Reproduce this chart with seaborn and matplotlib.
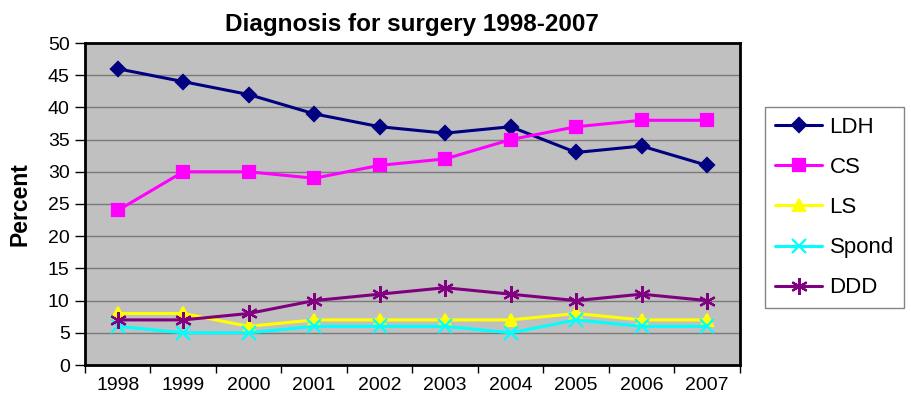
import matplotlib
matplotlib.use("Agg")
import matplotlib.pyplot as plt
import numpy as np
import pandas as pd
import seaborn as sns

# data
years = [1998, 1999, 2000, 2001, 2002, 2003, 2004, 2005, 2006, 2007]
ldh = [46, 44, 42, 39, 37, 36, 37, 33, 34, 31]
cs = [24, 30, 30, 29, 31, 32, 35, 37, 38, 38]
ls = [8, 8, 6, 7, 7, 7, 7, 8, 7, 7]
spond = [6, 5, 5, 6, 6, 6, 5, 7, 6, 6]
ddd = [7, 7, 8, 10, 11, 12, 11, 10, 11, 10]

series = {'LDH': ldh, 'CS': cs, 'LS': ls, 'Spond': spond, 'DDD': ddd}
colors = {'LDH': '#000080', 'CS': '#FF00FF', 'LS': '#FFFF00',
          'Spond': '#00FFFF', 'DDD': '#800080'}
markers = {'LDH': 'D', 'CS': 's', 'LS': '^', 'Spond': 'x', 'DDD': (6, 2, 0)}
msizes = {'LDH': 7.5, 'CS': 9, 'LS': 9, 'Spond': 10, 'DDD': 12}

sns.set_style('white')
plt.rcParams['font.family'] = ['Liberation Sans', 'DejaVu Sans']
plt.rcParams['text.color'] = 'black'
plt.rcParams['xtick.color'] = 'black'
plt.rcParams['ytick.color'] = 'black'
plt.rcParams['axes.labelcolor'] = 'black'

fig = plt.figure(figsize=(9.12, 4.0), dpi=100)
ax = fig.add_axes([0.0932, 0.0875, 0.718, 0.805])
ax.set_facecolor('#C0C0C0')

for name, vals in series.items():
    sns.lineplot(x=years, y=vals, color=colors[name], marker=markers[name],
                 markersize=msizes[name], markeredgewidth=1.6,
                 markeredgecolor=colors[name], markerfacecolor=colors[name],
                 linewidth=2.2, label=name, ax=ax, zorder=3)

ax.set_xlim(1997.5, 2007.5)
ax.set_ylim(0, 50)
ax.set_yticks(np.arange(0, 51, 5))
ax.set_xticks(years)
ax.set_xticks(np.arange(1997.5, 2008, 1), minor=True)
ax.tick_params(axis='x', which='major', length=0, labelsize=14, pad=9)
ax.tick_params(axis='x', which='minor', length=6, width=1, direction='out', color='black', bottom=True)
ax.tick_params(axis='y', length=7, width=1, direction='out', color='black',
               left=True, labelsize=14, pad=4)
ax.grid(axis='y', color='#7A7A7A', linewidth=1)
ax.grid(axis='x', visible=False)
ax.set_axisbelow(True)
for s in ax.spines.values():
    s.set_color('black')
    s.set_linewidth(2)

ax.set_xlabel('')
ax.set_ylabel('Percent', fontsize=16.5, fontweight='bold', labelpad=12)
ax.set_title('Diagnosis for surgery 1998-2007', fontsize=17.5, fontweight='bold', pad=9)

handles, labels = ax.get_legend_handles_labels()
ax.get_legend().remove()
leg = fig.legend(handles, labels, loc='upper left', bbox_to_anchor=(0.839, 0.7325),
                 borderaxespad=0, frameon=True, fancybox=False, fontsize=16,
                 handlelength=2.1, handletextpad=0.35, labelspacing=0.86,
                 borderpad=0.45, edgecolor='#666666')
leg.get_frame().set_linewidth(1)

fig.savefig('out.png', dpi=100)
